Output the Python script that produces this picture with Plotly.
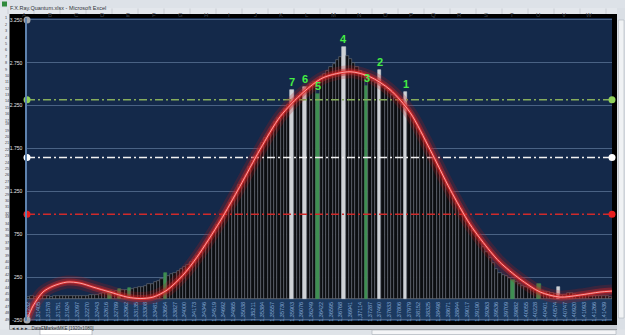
import plotly.graph_objects as go

# ---------------- data ----------------
bar_values = [
    22, 25, 20, 28, 24, 30, 26, 22, 27, 31, 25, 29, 33, 27, 30, 35, 32, 28, 34, 38, 36, 40,
    55, 62, 70, 90, 78, 85, 110, 95, 100, 125, 110, 120, 135, 140, 150, 165, 175, 190, 210, 230,
    300, 262, 282, 300, 322, 345, 368, 395, 425, 452,
    500, 540, 610, 660, 735, 780, 855, 900, 980, 1025,
    1110, 1190, 1235, 1320, 1390, 1440, 1530, 1600, 1660, 1740,
    1810, 1870, 1925, 2000, 2060, 2110, 2170, 2210, 2260, 2436,
    2330, 2360, 2400, 2471, 2470, 2500, 2530, 2390, 2590, 2620,
    2660, 2700, 2740, 2780, 2820, 2937, 2830, 2790, 2750, 2700,
    2660, 2620, 2483, 2560, 2540, 2520, 2669, 2480, 2450, 2420,
    2380, 2340, 2300, 2260, 2413, 2190, 2130, 2060, 1990,
    1920, 1850, 1780, 1700, 1630, 1550, 1480, 1400, 1320, 1240,
    1170, 1110, 1040, 975, 910, 850, 790, 730, 670, 600,
    540, 470, 410, 350, 300, 280, 260, 240, 215, 190,
    170, 150, 140, 125, 115, 100, 170, 90, 80, 75,
    60, 50, 134, 45, 40, 60, 70, 50, 40, 45,
    35, 40, 30, 35, 30, 25, 30, 25, 20,
]
green_bars = [25, 28, 31, 42, 89, 104, 149, 157]
white_bars = [81, 85, 97, 108, 116, 163]
peak_names = ["1", "2", "3", "4", "5", "6", "7"]
peak_bars = [116, 108, 104, 97, 89, 85, 81]

curve_x = [-0.5, 1.35, 4.4, 7.5, 11.8, 15.8, 19.8, 25, 30.3, 34.3, 38.3, 42.6, 47.5, 51.8,
           58.9, 65, 71.2, 77.4, 84.4, 90.6, 98.9, 105, 111.2, 117.4, 123.5, 129.7, 135.8,
           142, 145, 151.2, 157.4, 163.5, 169.7, 175.8, 179.5]
curve_y = [-250, -87, 76, 145, 192, 180, 134, 76, 17, 0, 17, 99, 273, 483,
           901, 1308, 1739, 2123, 2402, 2576, 2646, 2588, 2437, 2169, 1739, 1273, 866,
           552, 424, 227, 76, 17, 41, 76, 87]

level_values = [2320, 1645, 983]
level_colors = ["#86ad5c", "#f2f2f2", "#cf2a2a"]
level_marker_colors = ["#8fd05a", "#ffffff", "#e81e1e"]
axis_end_values = [3250, -250]

ytick_vals = [-250, 250, 750, 1250, 1750, 2250, 2750, 3250]
ytick_text = ["-250", "250", "750", "1.250", "1.750", "2.250", "2.750", "3.250"]

price_labels = [
    "1,31232", "1,31405", "1,31578", "1,31751", "1,31924", "1,32097", "1,32270", "1,32443", "1,32616", "1,32789",
    "1,32962", "1,33135", "1,33308", "1,33481", "1,33654", "1,33827", "1,34000", "1,34173", "1,34346", "1,34519",
    "1,34692", "1,34865", "1,35038", "1,35211", "1,35384", "1,35557", "1,35730", "1,35903", "1,36076", "1,36249",
    "1,36422", "1,36595", "1,36768", "1,36941", "1,37114", "1,37287", "1,37460", "1,37633", "1,37806", "1,37979",
    "1,38152", "1,38325", "1,38498", "1,38671", "1,38844", "1,39017", "1,39190", "1,39363", "1,39536", "1,39709",
    "1,39882", "1,40055", "1,40228", "1,40401", "1,40574", "1,40747", "1,40920", "1,41093", "1,41266", "1,41439",
]
label_step = 3

col_letters = list("ABCDEFGHIJKLMNOPQRSTUVW")
row_numbers = list(range(1, 50))

# ---------------- figure ----------------
n = len(bar_values)
xs = list(range(n))
fill = []
edge = []
for i in xs:
    if i in white_bars:
        fill.append("#cfd2d6"); edge.append("#cfd2d6")
    elif i in green_bars:
        fill.append("#3f8f52"); edge.append("#3f8f52")
    else:
        fill.append("#0c0e11"); edge.append("#737982")

W, H = 625, 335
L, R, T, B = 27, 13, 18, 14
ymin, ymax = -262, 3273


def fx(p):
    return (p - L) / (W - L - R)


def fy(p):
    return 1 - (p - T) / (H - T - B)


fig = go.Figure()

fig.add_trace(go.Bar(x=xs, y=bar_values, marker=dict(color=fill, line=dict(color=edge, width=0.6)),
                     hoverinfo="skip"))

# horizontal level lines
for v, c in zip(level_values, level_colors):
    fig.add_trace(go.Scatter(x=[-0.5, n - 0.5], y=[v, v], mode="lines",
                             line=dict(color=c, width=1.4, dash="8px,3px,2px,3px"), hoverinfo="skip"))

# glowing curve
for col, wd in [("rgba(190,25,25,0.22)", 13), ("rgba(210,35,35,0.42)", 7),
                ("rgba(225,45,45,0.85)", 2.8), ("#ffb0b0", 0.9)]:
    fig.add_trace(go.Scatter(x=curve_x, y=curve_y, mode="lines",
                             line=dict(color=col, width=wd, shape="spline", smoothing=0.8),
                             hoverinfo="skip"))

# axis end markers
fig.add_trace(go.Scatter(x=[-0.5] * 3, y=level_values, mode="markers", cliponaxis=False,
                         marker=dict(color=level_marker_colors, size=7), hoverinfo="skip"))
fig.add_trace(go.Scatter(x=[n - 0.5] * 3, y=level_values, mode="markers", cliponaxis=False,
                         marker=dict(color=level_marker_colors, size=7), hoverinfo="skip"))
fig.add_trace(go.Scatter(x=[-0.5] * 2, y=axis_end_values, mode="markers", cliponaxis=False,
                         marker=dict(color="#a3a7ab", size=7), hoverinfo="skip"))

annotations = []
for name, b in zip(peak_names, peak_bars):
    annotations.append(dict(x=b, y=bar_values[b], text="<b>" + name + "</b>", showarrow=False,
                            yanchor="middle", yshift=8,
                            font=dict(color="#44ee44", size=11, family="Liberation Sans")))

shapes = []
# label band inside plot
shapes.append(dict(type="rect", xref="x", yref="y", x0=-0.5, x1=n - 0.5, y0=-262, y1=0,
                   fillcolor="#1c3a60", line=dict(width=0), layer="below"))
shapes.append(dict(type="line", xref="x", yref="y", x0=-0.5, x1=n - 0.5, y0=0, y1=0,
                   line=dict(color="#5a7396", width=1), layer="below"))

# ---- Excel chrome ----
chrome = "#e3e7ec"
shapes.append(dict(type="rect", xref="paper", yref="paper", x0=fx(0), x1=fx(W), y0=fy(0), y1=fy(8),
                   fillcolor="#dde2e8", line=dict(width=0)))
shapes.append(dict(type="rect", xref="paper", yref="paper", x0=fx(0), x1=fx(W), y0=fy(8), y1=fy(14),
                   fillcolor=chrome, line=dict(width=0)))
shapes.append(dict(type="rect", xref="paper", yref="paper", x0=fx(0), x1=fx(9.5), y0=fy(8), y1=fy(H),
                   fillcolor=chrome, line=dict(width=0)))
shapes.append(dict(type="rect", xref="paper", yref="paper", x0=fx(617), x1=fx(W), y0=fy(8), y1=fy(H),
                   fillcolor="#dadfe5", line=dict(width=0)))
shapes.append(dict(type="rect", xref="paper", yref="paper", x0=fx(0), x1=fx(W), y0=fy(329.5), y1=fy(H),
                   fillcolor="#dfe3e8", line=dict(width=0)))
shapes.append(dict(type="rect", xref="paper", yref="paper", x0=fx(9.5), x1=fx(617), y0=fy(325), y1=fy(329.5),
                   fillcolor="#c9ced5", line=dict(width=0)))
shapes.append(dict(type="rect", xref="paper", yref="paper", x0=fx(372), x1=fx(616), y0=fy(330), y1=fy(334.5),
                   fillcolor="#f4f5f7", line=dict(color="#a8aeb6", width=0.6)))
shapes.append(dict(type="rect", xref="paper", yref="paper", x0=fx(618.5), x1=fx(624), y0=fy(20), y1=fy(318),
                   fillcolor="#f0f2f4", line=dict(color="#b0b5bc", width=0.6)))
shapes.append(dict(type="rect", xref="paper", yref="paper", x0=fx(40), x1=fx(92), y0=fy(329.5), y1=fy(335),
                   fillcolor="#ffffff", line=dict(color="#9aa0a8", width=0.6)))
shapes.append(dict(type="rect", xref="paper", yref="paper", x0=fx(2), x1=fx(7), y0=fy(1.5), y1=fy(6.5),
                   fillcolor="#2f8a3c", line=dict(width=0)))
for k in range(len(col_letters) + 1):
    xx = 8 + 26 * k
    shapes.append(dict(type="line", xref="paper", yref="paper", x0=fx(xx), x1=fx(xx), y0=fy(8.5), y1=fy(14),
                       line=dict(color="#b9bec6", width=0.6)))

for k, c in enumerate(col_letters):
    annotations.append(dict(xref="paper", yref="paper", x=fx(21 + 26 * k), y=fy(11.2), text=c, showarrow=False,
                            borderpad=0, font=dict(size=6, color="#3c4048", family="Liberation Sans")))
for r in row_numbers:
    annotations.append(dict(xref="paper", yref="paper", x=fx(4.3), y=fy(15.3 + 6.4 * (r - 1)), text=str(r),
                            showarrow=False, borderpad=0,
                            font=dict(size=3.8, color="#3c4048", family="Liberation Sans")))
annotations.append(dict(xref="paper", yref="paper", x=fx(9), y=fy(4), xanchor="left",
                        text="F.X.Ray.Quantum.xlsx - Microsoft Excel", showarrow=False, borderpad=0,
                        font=dict(size=5.5, color="#303338", family="Liberation Sans")))
annotations.append(dict(xref="paper", yref="paper", x=fx(11), y=fy(332.3), xanchor="left",
                        text="◂ ◂ ▸ ▸   DataEU", showarrow=False, borderpad=0,
                        font=dict(size=4.5, color="#303338", family="Liberation Sans")))
annotations.append(dict(xref="paper", yref="paper", x=fx(43), y=fy(332.3), xanchor="left",
                        text="MarketMKE [1920x1080]", showarrow=False, borderpad=0,
                        font=dict(size=4.5, color="#303338", family="Liberation Sans")))

tick_idx = xs[::label_step]

fig.update_layout(
    width=W, height=H, margin=dict(l=L, r=R, t=T, b=B, autoexpand=False),
    paper_bgcolor="#000000", plot_bgcolor="#14294a",
    template="none", showlegend=False, bargap=0,
    annotations=annotations, shapes=shapes,
    xaxis=dict(range=[-0.5, n - 0.5], anchor="free", position=(0 - ymin) / (ymax - ymin) - 0.004,
               tickvals=tick_idx, ticktext=price_labels[:len(tick_idx)], tickangle=-90,
               showgrid=False, zeroline=False, showline=False, ticks="", automargin=False,
               tickfont=dict(size=5.5, color="#86a9d6", family="Liberation Sans")),
    yaxis=dict(range=[ymin, ymax], tickvals=ytick_vals, ticktext=ytick_text,
               showgrid=True, gridcolor="#4a6284", gridwidth=1, zeroline=False,
               showline=True, linecolor="#5e82ad", linewidth=1.5, ticks="", automargin=False,
               ticklabelstandoff=2,
               tickfont=dict(size=5, color="#e6e6e6", family="Liberation Sans")),
)

fig.write_html("out.html")
